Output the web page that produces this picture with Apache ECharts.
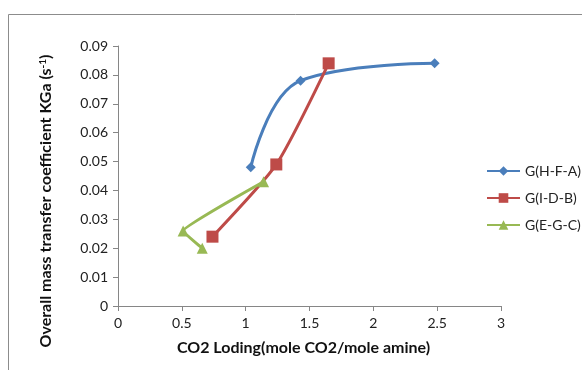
<!DOCTYPE html>
<html>
<head>
<meta charset="utf-8">
<script src="https://cdn.jsdelivr.net/npm/echarts@6/dist/echarts.min.js"></script>
<style>
  html, body { margin: 0; padding: 0; background: #fff; }
  #main { width: 582px; height: 370px; }
</style>
</head>
<body>
<div id="main"></div>
<script>
// series data, [CO2 loading, KGa]
const seriesNames = ["G(H-F-A)", "G(I-D-B)", "G(E-G-C)"];
const hfa = [[1.04, 0.048], [1.43, 0.078], [2.48, 0.084]];
const idb = [[0.74, 0.024], [1.24, 0.049], [1.65, 0.084]];
const egc = [[1.14, 0.043], [0.51, 0.026], [0.66, 0.020]];

const colors = ["#4A7EBB", "#BE4B48", "#98B954"];
const symbols = ["diamond", "rect", "triangle"];
const symbolSizes = [10, 12, 11];
const smoothness = [0.42, 0.2, 0.08];

const font = "Lato";
const chart = echarts.init(document.getElementById("main"));

const makeSeries = (name, data, i) => ({
  name: name,
  type: "line",
  data: data,
  smooth: smoothness[i],
  symbol: symbols[i],
  symbolSize: symbolSizes[i],
  lineStyle: { color: colors[i], width: 3 },
  itemStyle: { color: colors[i] }
});

const option = {
  animation: false,
  textStyle: { fontFamily: font },
  graphic: [
    {
      type: "rect",
      shape: { x: 8.5, y: 14.5, width: 700, height: 500 },
      style: { fill: null, stroke: "#8c8c8c", lineWidth: 1 }
    }
  ],
  grid: { left: 118, right: 81, top: 46, bottom: 64 },
  legend: {
    orient: "vertical",
    left: 481,
    top: 159,
    itemWidth: 33,
    itemHeight: 12,
    itemGap: 13,
    textStyle: { fontFamily: font, fontSize: 14, color: "#222" },
    data: seriesNames
  },
  xAxis: {
    type: "value",
    min: 0,
    max: 3,
    interval: 0.5,
    name: "CO2 Loding(mole CO2/mole amine)",
    nameLocation: "middle",
    nameGap: 34,
    nameTextStyle: { fontFamily: font, fontSize: 16, fontWeight: "bold", color: "#111", padding: [0, 12, 0, 0] },
    axisLine: { lineStyle: { color: "#868686", width: 1 } },
    axisTick: { show: true, length: 5, lineStyle: { color: "#868686" } },
    axisLabel: { fontFamily: font, fontSize: 14, color: "#222", margin: 10 },
    splitLine: { show: false }
  },
  yAxis: {
    type: "value",
    min: 0,
    max: 0.09,
    interval: 0.01,
    name: "Overall mass transfer coefficient KGa (s{sup|-1})",
    nameLocation: "middle",
    nameGap: 64,
    nameTextStyle: {
      fontFamily: font, fontSize: 16, fontWeight: "bold", color: "#111",
      padding: [0, 50, 0, 0],
      rich: { sup: { fontFamily: font, fontSize: 10, fontWeight: "bold", color: "#111", verticalAlign: "top", padding: [0, 0, 6, 0] } }
    },
    axisLine: { show: true, lineStyle: { color: "#868686", width: 1 } },
    axisTick: { show: true, length: 5, lineStyle: { color: "#868686" } },
    axisLabel: {
      fontFamily: font, fontSize: 14, color: "#222", margin: 10,
      formatter: v => (v === 0 ? "0" : v.toFixed(2))
    },
    splitLine: { show: false }
  },
  series: [
    makeSeries(seriesNames[0], hfa, 0),
    makeSeries(seriesNames[1], idb, 1),
    makeSeries(seriesNames[2], egc, 2)
  ]
};

chart.setOption(option);
</script>
</body>
</html>
